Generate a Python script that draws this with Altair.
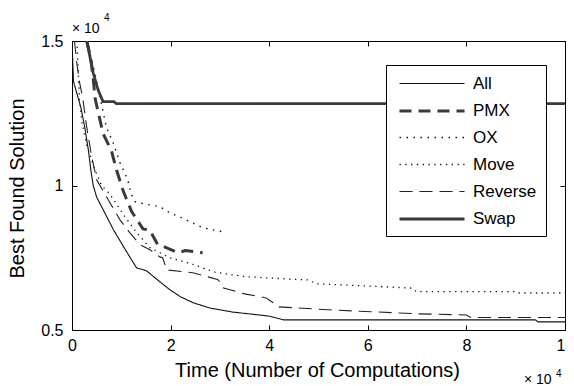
import altair as alt
import pandas as pd

series_names = ["All", "PMX", "OX", "Move", "Reverse", "Swap"]

all_x = [0, 0.03, 0.08, 0.18, 0.26, 0.33, 0.38, 0.43, 0.5, 0.63, 0.84, 1.04, 1.2, 1.31, 1.51, 1.78, 1.98, 2.2, 2.46, 2.8, 3.26, 3.8, 4.0, 4.3, 9.4, 9.45, 10]
all_y = [1.5, 1.36, 1.33, 1.27, 1.2, 1.125, 1.056, 1.0, 0.96, 0.917, 0.847, 0.79, 0.745, 0.715, 0.705, 0.667, 0.64, 0.615, 0.594, 0.576, 0.562, 0.552, 0.548, 0.535, 0.535, 0.528, 0.528]

pmx_x = [0.3, 0.38, 0.43, 0.47, 0.55, 0.63, 0.8, 0.91, 1.03, 1.1, 1.21, 1.44, 1.58, 1.74, 1.84, 2.15, 2.3, 2.65]
pmx_y = [1.5, 1.44, 1.37, 1.3, 1.24, 1.18, 1.12, 1.05, 0.985, 0.955, 0.91, 0.85, 0.845, 0.795, 0.79, 0.767, 0.775, 0.767]

ox_x = [0.3, 0.45, 0.6, 0.7, 0.83, 0.97, 1.13, 1.2, 1.28, 1.5, 1.78, 1.98, 2.2, 2.45, 2.65, 2.9, 3.05]
ox_y = [1.5, 1.4, 1.28, 1.2, 1.15, 1.08, 1.02, 0.97, 0.944, 0.935, 0.927, 0.906, 0.89, 0.87, 0.854, 0.845, 0.84]

move_x = [0.1, 0.15, 0.2, 0.3, 0.45, 0.6, 0.77, 1.04, 1.31, 1.58, 1.98, 2.4, 2.9, 3.5, 4.0, 4.8, 4.95, 6.0, 6.9, 6.98, 9.0, 9.05, 10]
move_y = [1.5, 1.3, 1.22, 1.14, 1.06, 1.0, 0.97, 0.9, 0.837, 0.785, 0.75, 0.73, 0.7, 0.685, 0.68, 0.673, 0.66, 0.652, 0.645, 0.633, 0.633, 0.628, 0.628]

reverse_x = [0.05, 0.1, 0.15, 0.22, 0.3, 0.4, 0.5, 0.77, 0.97, 1.17, 1.38, 1.58, 1.78, 1.84, 1.92, 2.45, 2.95, 3.0, 3.06, 3.5, 3.94, 4.0, 4.2, 5.29, 6.64, 7.0, 8.0, 8.1, 10]
reverse_y = [1.5, 1.42, 1.36, 1.3, 1.2, 1.1, 1.02, 0.94, 0.882, 0.837, 0.795, 0.778, 0.753, 0.75, 0.708, 0.698, 0.675, 0.667, 0.646, 0.625, 0.611, 0.604, 0.58, 0.569, 0.559, 0.556, 0.552, 0.543, 0.543]

swap_x = [0.3, 0.43, 0.53, 0.63, 0.85, 0.9, 10]
swap_y = [1.5, 1.39, 1.33, 1.29, 1.29, 1.283, 1.283]

x_ticks = [0, 2, 4, 6, 8, 10]
y_ticks = [0.5, 1, 1.5]

series_x = [all_x, pmx_x, ox_x, move_x, reverse_x, swap_x]
series_y = [all_y, pmx_y, ox_y, move_y, reverse_y, swap_y]

rows = []
for name, xs, ys in zip(series_names, series_x, series_y):
    for i, (xv, yv) in enumerate(zip(xs, ys)):
        rows.append({"series": name, "t": xv, "best": yv, "order": i})
df = pd.DataFrame(rows)

colors = ["#111111", "#3a3a3a", "#111111", "#111111", "#222222", "#3a3a3a"]
dashes = [[1, 0], [12, 7], [1.5, 5.5], [1.3, 4.5], [13, 7], [1, 0]]
widths = [1.1, 3, 1.4, 1.3, 1.1, 2.8]

FONT = "Liberation Sans"

xscale = alt.Scale(domain=[0, 10], nice=False, zero=False)
yscale = alt.Scale(domain=[0.5, 1.5], nice=False, zero=False)

lines = alt.Chart(df).mark_line(clip=True).encode(
    x=alt.X("t:Q", scale=xscale, axis=alt.Axis(
        orient="bottom", values=x_ticks, format="d", offset=-5, tickSize=5,
        domain=False, grid=False, labelPadding=7, labelFontSize=16,
        labelFlush=False,
        labelFont=FONT, labelColor="black", tickColor="black",
        title="Time (Number of Computations)", titleFont=FONT,
        titleFontSize=20, titleFontWeight="normal", titleColor="black",
        titleX=245, titleY=51, titleBaseline="alphabetic")),
    y=alt.Y("best:Q", scale=yscale, axis=alt.Axis(
        orient="left", values=y_ticks, format="~g", offset=-5, tickSize=5,
        domain=False, grid=False, labelPadding=9, labelFontSize=16,
        labelFlush=False,
        labelFont=FONT, labelColor="black", tickColor="black",
        title="Best Found Solution", titleFont=FONT, titleFontSize=20,
        titleFontWeight="normal", titleColor="black",
        titleX=-54, titleY=147, titleBaseline="alphabetic", titleAngle=270)),
    color=alt.Color("series:N", scale=alt.Scale(domain=series_names, range=colors),
                    legend=alt.Legend(title=None, orient="none", legendX=314, legendY=24,
                                      symbolType="M-1,0H6.65", symbolSize=289,
                                      symbolOffset=3,
                                      labelFontSize=17, labelFont=FONT, labelColor="black",
                                      labelOffset=55, padding=9, rowPadding=9,
                                      strokeColor="black", fillColor="white",
                                      cornerRadius=0)),
    strokeDash=alt.StrokeDash("series:N", scale=alt.Scale(type="ordinal", domain=series_names, range=dashes), legend=alt.Legend(title=None)),
    strokeWidth=alt.StrokeWidth("series:N", scale=alt.Scale(type="ordinal", domain=series_names, range=widths), legend=alt.Legend(title=None)),
    order="order:Q",
)

frame = alt.Chart(df).mark_point(opacity=0).encode(
    x=alt.X("t:Q", scale=xscale, axis=alt.Axis(
        orient="top", values=x_ticks, offset=-5, tickSize=5, labels=False,
        domain=False, grid=False, tickColor="black", title=None)),
    y=alt.Y("best:Q", scale=yscale, axis=alt.Axis(
        orient="right", values=y_ticks, offset=-5, tickSize=5, labels=False,
        domain=False, grid=False, tickColor="black", title=None)),
)

ann = pd.DataFrame({"k": [0]})


def note(text, xv, yv, size, dx, dy):
    return alt.Chart(ann).mark_text(text=text, align="left", baseline="alphabetic",
                                    font=FONT, fontSize=size, color="black",
                                    dx=dx, dy=dy).encode(
        x=alt.XDatum(xv, axis=None), y=alt.YDatum(yv, axis=None))


top_exp = note("× 10", 0, 1.5, 14, 0, -8)
top_sup = note("4", 0, 1.5, 10, 32, -20)
bot_exp = note("× 10", 10, 0.5, 14, -41, 54)
bot_sup = note("4", 10, 0.5, 10, -9, 47)

chart = alt.layer(lines, frame, top_exp, top_sup, bot_exp, bot_sup).resolve_axis(
    x="independent", y="independent"
).properties(
    width=493, height=289, autosize="none",
    padding={"left": 64, "top": 33, "right": 1, "bottom": 56},
    background="white",
).configure_view(stroke="black", strokeWidth=1)

chart.save("out.html", embed_options={"renderer": "svg", "actions": False})
